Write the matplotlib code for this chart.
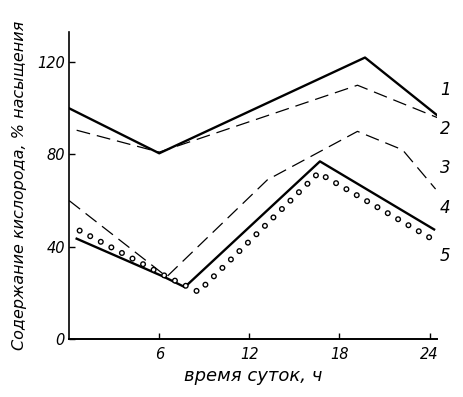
import matplotlib
matplotlib.use('Agg')
import matplotlib.pyplot as plt

plt.rcParams['lines.scale_dashes'] = False

# time of day, h / oxygen content, % saturation
x1 = [0, 6, 19.7, 24.5]
y1 = [100, 80.5, 122, 97]
x2 = [0.5, 6, 19.2, 24.5]
y2 = [90.5, 81, 110, 96]
x3 = [0, 6.5, 13.2, 19.2, 22.2, 24.4]
y3 = [60, 27, 69, 90, 82, 65]
x4 = [0.5, 6.3, 7.7, 16.7, 24.3]
y4 = [43.5, 27, 22.5, 77, 47.5]
x5 = [0.7, 6.5, 8.6, 16.6, 24.0]
y5 = [47, 27, 20.5, 72, 44]

curve_labels = ['1', '2', '3', '4', '5']
label_y = [108, 91, 74, 57, 36]

xticks = [6, 12, 18, 24]
yticks = [0, 40, 80, 120]

fig = plt.figure(figsize=(4.64, 3.97), dpi=100)
ax = fig.add_axes([0.149, 0.146, 0.793, 0.773])

ax.plot(x1, y1, color='black', lw=1.7)
ax.plot(x2, y2, color='black', lw=0.9, dashes=(10, 5))
ax.plot(x3, y3, color='black', lw=0.9, dashes=(10, 5))
ax.plot(x4, y4, color='black', lw=1.7)
# open circles drawn as a dotted ring line
ax.plot(x5, y5, color='black', lw=4.4, dashes=(0.01, 8.6), dash_capstyle='round')
ax.plot(x5, y5, color='white', lw=2.4, dashes=(0.01, 8.6), dash_capstyle='round')

for lab, ly in zip(curve_labels, label_y):
    ax.text(24.7, ly, lab, fontsize=12, style='italic', ha='left', va='center')

ax.set_xlim(0, 24.5)
ax.set_ylim(0, 133)
ax.set_xticks(xticks)
ax.set_yticks(yticks)
ax.tick_params(direction='in', length=4, width=1, labelsize=10.5)
ax.tick_params(axis='y', pad=3)
ax.tick_params(axis='x', pad=6)
for t in ax.get_xticklabels() + ax.get_yticklabels():
    t.set_style('italic')

ax.spines['top'].set_visible(False)
ax.spines['right'].set_visible(False)
ax.spines['left'].set_linewidth(1.2)
ax.spines['bottom'].set_linewidth(1.4)

ax.set_xlabel('время суток, ч', fontsize=13, style='italic', labelpad=3)
ax.set_ylabel('Содержание кислорода, % насыщения', fontsize=11.5,
              style='italic', labelpad=4)
ax.yaxis.set_label_coords(-0.115, 0.5)

fig.savefig('out.png', dpi=100)
